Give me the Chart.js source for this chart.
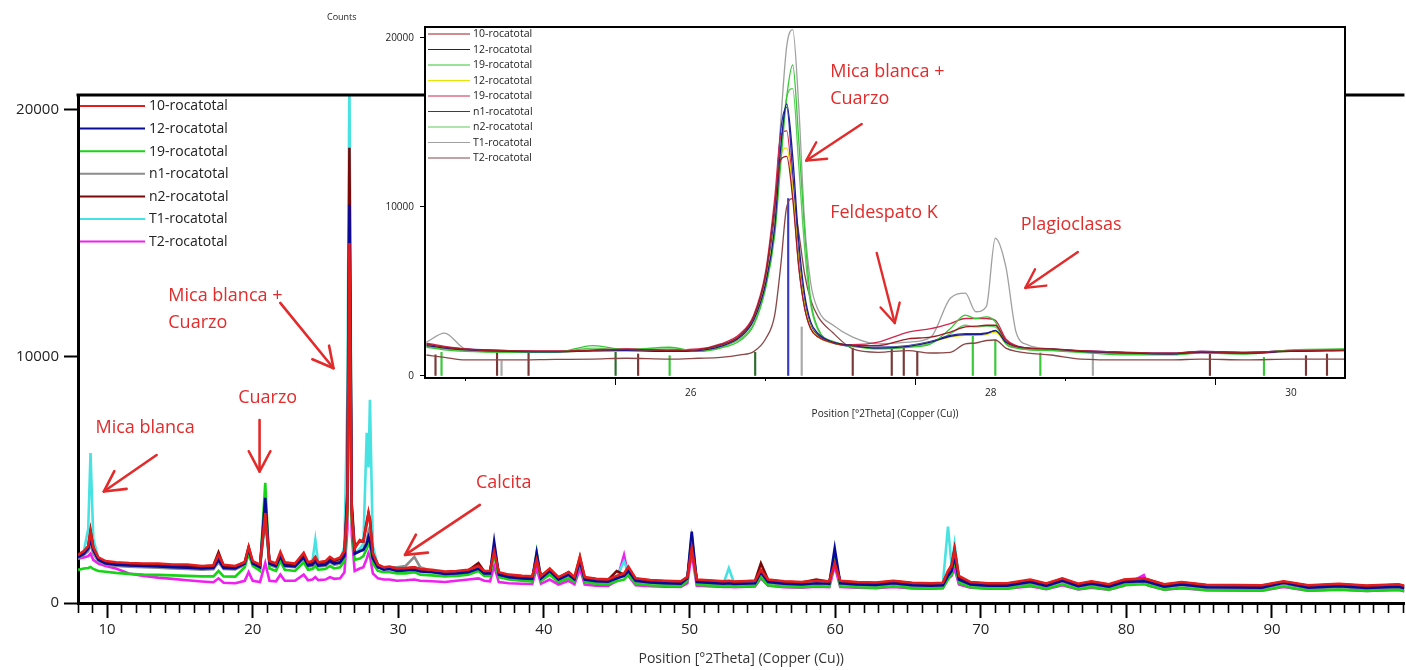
<!DOCTYPE html>
<html><head><meta charset="utf-8">
<script src="https://cdn.jsdelivr.net/npm/chart.js@4.4.0/dist/chart.umd.min.js"></script>
<style>
html,body{margin:0;padding:0;background:#fff;}
#wrap{position:relative;width:1406px;height:670px;overflow:hidden;background:#fff;}
#wrap canvas{position:absolute;left:0;top:0;}
</style></head><body>
<div id="wrap"><canvas id="main" width="1406" height="670"></canvas><canvas id="inset" width="1406" height="670"></canvas></div>
<script>
// ---------------- DATA: main pattern ----------------
const mainLabels = ['10-rocatotal','12-rocatotal','19-rocatotal','n1-rocatotal','n2-rocatotal','T1-rocatotal','T2-rocatotal'];
const mainXTickLabels = [10,20,30,40,50,60,70,80,90];
const mainYTickLabels = [0,10000,20000];

const main2Theta = [8.0,8.4,8.7,8.86,9.05,9.4,9.9,10.6,11.5,12.5,
13.5,14.5,15.5,16.5,17.3,17.65,18.0,18.8,19.45,19.72,
20.0,20.5,20.86,21.15,21.6,21.9,22.2,22.9,23.5,23.8,
24.1,24.3,24.5,25.0,25.3,25.6,26.0,26.3,26.5,26.64,
26.8,27.0,27.35,27.6,27.83,27.95,28.05,28.25,28.6,29.0,
29.4,29.9,30.5,31.1,31.5,32.3,33.2,34.0,34.8,35.5,
35.9,36.3,36.58,36.9,37.6,38.5,39.2,39.5,39.8,40.4,
41.0,41.7,42.1,42.47,42.8,43.6,44.4,45.0,45.5,45.8,
46.3,47.3,48.3,49.4,49.85,50.15,50.5,52.35,52.7,53.05,
54.5,54.9,55.4,56.5,57.7,58.7,59.6,59.97,60.35,61.5,
62.8,64.0,65.3,66.6,67.4,67.75,68.0,68.2,68.5,69.3,
70.5,71.8,73.4,74.5,75.6,76.7,77.6,78.8,79.85,81.2,
81.5,82.6,83.8,85.5,87.5,89.3,90.8,92.5,94.6,96.5,
98.7,99.1];

const counts10 = [1950,2100,2300,2880,2250,1850,1700,1650,1620,1600,
1600,1560,1560,1500,1520,1950,1550,1500,1650,2270,
1700,1550,3650,1700,1600,2070,1650,1600,2030,1650,
1700,1870,1650,1700,1870,1750,1850,2100,3800,14600,
3600,2200,2550,2500,3200,3650,3300,2000,1550,1450,
1480,1400,1420,1450,1380,1350,1280,1300,1350,1500,
1300,1300,2080,1250,1150,1100,1080,1750,1100,1400,
1050,1250,1050,1880,1050,980,960,1100,1200,1470,
1000,930,900,880,1050,2220,950,880,900,870,
900,1340,950,880,850,900,880,1610,900,850,
830,900,820,800,820,1300,1500,2150,1100,850,
800,800,950,790,1000,780,880,760,950,1000,
950,760,850,740,730,720,880,720,780,710,
760,700];

const counts12 = [1850,2000,2200,2600,2150,1750,1600,1550,1520,1500,
1480,1450,1430,1400,1420,1750,1420,1400,1600,2200,
1600,1450,4260,1600,1500,1900,1520,1480,1850,1520,
1550,1700,1520,1550,1700,1600,1650,1900,4200,16150,
3800,2000,2100,2150,2400,2680,2500,1800,1450,1350,
1380,1300,1320,1350,1280,1250,1180,1200,1250,1400,
1200,1200,2490,1150,1050,1000,980,2040,1000,1300,
960,1150,960,1700,950,880,860,1000,1100,1300,
900,830,800,780,1000,2890,850,780,800,770,
800,1250,850,780,750,800,780,2220,800,750,
730,800,720,700,720,1100,1300,1900,950,750,
700,700,850,690,900,680,780,660,850,880,
850,660,750,640,630,620,820,620,680,610,
660,600];

const counts19 = [1340,1400,1420,1460,1380,1300,1270,1220,1180,1150,
1140,1120,1100,1080,1080,1300,1080,1070,1450,2000,
1500,1300,4870,1400,1300,1700,1350,1300,1650,1350,
1380,1500,1350,1380,1500,1400,1450,1700,3600,13800,
3300,1750,1800,1900,2200,2430,2300,1600,1300,1250,
1250,1200,1200,1250,1150,1120,1080,1100,1150,1300,
1100,1100,2000,1050,950,900,880,2050,900,1150,
850,1000,860,1800,850,780,760,880,950,1150,
780,720,700,680,900,2750,740,680,700,660,
700,1050,720,660,640,690,660,1900,680,640,
620,680,610,590,610,950,1150,1750,820,640,
590,590,720,570,760,560,650,540,720,760,
720,540,620,520,510,500,680,500,550,490,
540,480];

const countsN1 = [1800,1950,2100,2400,2000,1700,1560,1500,1470,1450,
1430,1400,1380,1350,1370,1650,1380,1360,1550,2100,
1550,1400,3900,1550,1450,1850,1480,1450,1800,1480,
1500,1650,1480,1500,1650,1550,1600,1850,4000,12500,
3600,2000,2100,2200,2500,2900,2700,1800,1450,1400,
1450,1450,1500,1870,1450,1300,1200,1200,1220,1350,
1150,1150,2200,1100,1000,950,940,1800,950,1250,
920,1100,920,1650,900,850,830,1000,1100,1250,
870,800,780,760,950,2500,820,760,780,740,
780,1200,820,740,720,770,750,1900,770,720,
700,770,690,670,690,1050,1250,1800,900,720,
670,670,800,660,860,650,740,630,800,850,
820,630,720,610,600,590,780,590,650,580,
630,570];

const countsN2 = [1900,2050,2300,2950,2250,1800,1650,1600,1580,1560,
1550,1520,1500,1480,1520,2050,1500,1480,1650,2270,
1650,1500,3500,1650,1550,2000,1600,1560,2000,1600,
1650,1800,1600,1650,1800,1700,1800,2100,4500,18460,
4000,2300,2500,2500,3300,3650,3400,2000,1550,1420,
1450,1380,1400,1450,1350,1320,1250,1280,1320,1620,
1280,1280,2150,1220,1120,1080,1050,1700,1080,1350,
1020,1250,1030,1850,1020,960,940,1290,1150,1400,
980,910,880,860,1050,2300,930,860,880,850,
900,1610,930,860,830,950,860,1700,880,830,
810,880,800,780,800,1250,1550,2200,1050,830,
780,780,920,770,980,760,860,740,930,980,
940,740,830,720,710,700,860,700,760,690,
740,680];

const countsT1 = [1850,2100,3000,6080,2600,1800,1600,1550,1520,1500,
1480,1460,1440,1420,1440,1700,1440,1420,1550,2000,
1550,1450,3300,1550,1480,1800,1500,1480,1800,1550,
1700,2560,1600,1550,1700,1600,1700,2300,8350,21500,
4000,2000,2200,2400,6900,5500,8240,2300,1500,1400,
1400,1350,1380,1450,1350,1300,1220,1250,1280,1400,
1250,1250,2300,1200,1100,1050,1030,1900,1050,1300,
1000,1200,1000,1750,1000,930,910,1050,1680,1250,
950,880,850,830,1000,2600,900,830,1410,820,
850,1300,900,830,800,850,830,2000,850,800,
780,850,770,750,800,3100,1500,2390,1000,800,
750,750,900,740,950,730,830,710,900,930,
900,710,800,690,680,670,850,670,730,660,
710,650];

const countsT2 = [1800,1850,1900,2000,1750,1600,1500,1400,1200,1100,
1030,980,920,870,840,1000,820,800,900,1250,
900,850,1620,900,880,1150,900,900,1150,920,
950,1050,930,950,1050,980,1000,1250,3000,12000,
2800,1300,1400,1450,1800,2030,1900,1200,1000,950,
950,900,920,950,900,880,850,900,950,1000,
900,880,1500,850,800,780,770,1400,780,950,
750,900,760,1400,750,700,690,900,1950,1100,
720,680,660,650,800,2000,700,650,660,640,
670,1000,700,640,620,660,640,1500,650,620,
600,650,590,580,600,1000,1100,1400,750,620,
580,580,680,560,720,550,620,540,700,1130,
700,540,600,520,510,500,650,500,540,490,
530,480];

// ---------------- DATA: inset (24.2 - 30.4 deg) ----------------
const insetLabels = ['10-rocatotal','12-rocatotal','19-rocatotal','12-rocatotal','19-rocatotal','n1-rocatotal','n2-rocatotal','T1-rocatotal','T2-rocatotal'];
const insetXTickLabels = [26,28,30];
const insetYTickLabels = [0,10000,20000];

const inset2Theta = [24.24,24.36,24.5,24.8,25.1,25.35,25.57,25.86,26.05,26.2,
26.33,26.42,26.5,26.56,26.6,26.64,26.68,26.72,26.76,26.8,
26.85,26.95,27.08,27.25,27.45,27.6,27.73,27.83,27.9,27.97,
28.03,28.1,28.17,28.25,28.4,28.6,28.9,29.2,29.4,29.7,
30.0,30.36];

const inCounts10 = [1900,1700,1580,1480,1450,1520,1580,1500,1550,1850,
2400,3500,6000,10000,12800,13000,10500,6500,4000,2800,
2300,1950,1800,1800,2200,2300,2600,2900,2950,3000,
3000,2100,1750,1650,1600,1480,1380,1330,1430,1380,
1480,1520];
const inCounts12 = [1800,1650,1550,1450,1420,1480,1500,1450,1500,1750,
2300,3300,5500,8800,13500,16100,13000,8000,4800,3200,
2500,2000,1800,1650,1750,2000,2350,2450,2450,2500,
2700,2000,1750,1650,1600,1450,1350,1300,1400,1350,
1450,1500];
const inCounts19 = [1700,1550,1450,1400,1400,1800,1550,1700,1450,1650,
2100,3000,5200,8300,12500,16500,18400,14000,8500,4500,
2800,2000,1750,1600,1700,1900,2800,3600,3400,3500,
3200,1900,1650,1550,1500,1400,1250,1250,1350,1300,
1550,1600];
const inCounts12b = [1800,1650,1550,1450,1420,1480,1500,1450,1500,1750,
2300,3300,5600,9000,13000,13500,11000,6800,4200,2900,
2300,1950,1780,1650,1750,2000,2300,2400,2400,2450,
2600,1950,1720,1620,1580,1450,1350,1300,1400,1350,
1450,1500];
const inCounts19b = [1950,1750,1600,1500,1480,1550,1600,1550,1600,1900,
2500,3600,6200,10500,14200,14500,11000,6500,4000,2800,
2300,1950,1850,2000,2600,2800,3100,3400,3400,3400,
3300,2200,1800,1650,1600,1500,1400,1350,1450,1400,
1500,1550];
const inCountsN1 = [1850,1700,1600,1500,1450,1500,1550,1480,1520,1800,
2350,3400,5800,9500,14500,15900,12000,7200,4400,3000,
2400,1950,1750,1700,1800,2050,2400,2500,2500,2550,
2650,1950,1700,1600,1550,1500,1400,1350,1450,1400,
1500,1550];
const inCountsN2 = [1750,1600,1500,1420,1420,1650,1520,1600,1480,1700,
2200,3100,5300,8600,13000,16500,17000,12500,7500,4200,
2700,2050,1800,1650,1720,1950,2500,3000,2900,2950,
2900,1950,1700,1600,1550,1420,1300,1280,1380,1330,
1500,1580];
const inCountsT1 = [2000,2540,1600,1450,1420,1500,1550,1480,1520,1800,
2400,3400,5600,9500,15000,19500,20500,16000,9000,5500,
3900,3000,2300,1900,2000,2300,4600,4900,3800,4100,
8150,6470,2540,1830,1600,1480,1380,1330,1450,1400,
1500,1550];
const inCountsT2 = [1240,1100,950,950,980,1000,1050,1000,1050,1100,
1250,1440,2200,3600,6500,10000,10500,8500,6000,4500,
3500,2540,1600,1400,1500,1360,1400,1900,1950,2100,
2130,1650,1450,1350,1240,1000,950,950,1000,950,
1000,1000];

// reference-pattern sticks in the inset
const stickPos = [24.30,24.34,24.71,24.74,24.92,25.50,25.65,25.86,26.43,26.65,26.74,27.08,27.34,27.42,27.51,27.88,28.03,28.33,28.68,29.46,29.82,30.10,30.24];
const stickHeight = [1250,1400,1400,900,1400,1400,1300,1200,1400,10500,2900,1650,1650,1650,1440,2430,2130,1360,1360,1360,1100,1200,1300];
const stickPhase = ['b','g','b','s','b','d','b','g','d','n','s','b','b','b','b','g','g','g','s','b','g','b','b'];

// ---------------- STYLES ----------------
const FONT = '"Open Sans", "Noto Sans", "DejaVu Sans", sans-serif';
const mainColors = ['#e41c1c','#0a0a98','#17d417','#8c8c8c','#7a0808','#48e2e2','#f020f0'];
const insetColors = ['#a01c24','#1c1c8c','#34c834','#e6e600','#d0284c','#3030b0','#5ccc5c','#a0a0a0','#8a4646'];
const phaseColors = {b:'#7a3838', g:'#38c838', d:'#2e6b2e', s:'#a8a8a8', n:'#3a3ac8'};
const noteRed = '#e32b2b';

const mainNotes = [
  {lines:['Mica blanca'], x:9.2, y:7100},
  {lines:['Cuarzo'], x:19.0, y:8320},
  {lines:['Mica blanca +','Cuarzo'], x:14.2, y:12450},
  {lines:['Calcita'], x:35.33, y:4870}
];
const mainArrows = [
  {from:[13.4,6000], to:[9.77,4520]},
  {from:[20.47,7420], to:[20.47,5330]},
  {from:[21.89,12170], to:[25.55,9520]},
  {from:[35.6,3980], to:[30.46,1950]}
];
const insetNotes = [
  {lines:['Mica blanca +','Cuarzo'], x:26.93, y:17990},
  {lines:['Feldespato K'], x:26.93, y:9645},
  {lines:['Plagioclasas'], x:28.2, y:8935}
];
const insetArrows = [
  {from:[27.14,14910], to:[26.77,12740]},
  {from:[27.24,7280], to:[27.36,3136]},
  {from:[28.58,7340], to:[28.23,5210]}
];

// ---------------- helpers ----------------
function pts(xs, ys){ return xs.map((x,i)=>({x:x, y:ys[i]})); }

function drawArrow(ctx, x1, y1, x2, y2, head, lw){
  ctx.save();
  ctx.strokeStyle = noteRed; ctx.lineWidth = lw; ctx.lineCap = 'round'; ctx.lineJoin='round';
  ctx.beginPath(); ctx.moveTo(x1,y1); ctx.lineTo(x2,y2); ctx.stroke();
  const ang = Math.atan2(y1-y2, x1-x2), a = 28*Math.PI/180;
  ctx.beginPath();
  ctx.moveTo(x2 + head*Math.cos(ang+a), y2 + head*Math.sin(ang+a));
  ctx.lineTo(x2, y2);
  ctx.lineTo(x2 + head*Math.cos(ang-a), y2 + head*Math.sin(ang-a));
  ctx.stroke();
  ctx.restore();
}

const decor = {
  id: 'decor',
  beforeDraw(chart, args, o){
    if (o.whiteArea){
      const a = chart.chartArea, ctx = chart.ctx;
      ctx.save(); ctx.fillStyle = '#fff';
      ctx.fillRect(a.left-1, a.top-1, a.right-a.left+2, a.bottom-a.top+2);
      ctx.restore();
    }
  },
  afterDraw(chart, args, o){
    const ctx = chart.ctx, a = chart.chartArea;
    const xs = chart.scales.x, ys = chart.scales.y;
    ctx.save();
    ctx.strokeStyle = '#000';
    if (o.frame === 'top'){
      ctx.lineWidth = 3;
      ctx.beginPath(); ctx.moveTo(a.left-1.5, a.top); ctx.lineTo(a.right, a.top); ctx.stroke();
    } else if (o.frame === 'box'){
      ctx.lineWidth = 2;
      ctx.strokeRect(a.left, a.top, a.right-a.left, a.bottom-a.top);
    }
    const L = o.legend;
    let k = 0;
    ctx.font = L.size + 'px ' + FONT;
    ctx.textBaseline = 'middle'; ctx.textAlign = 'left';
    chart.data.datasets.forEach(ds => {
      if (ds.type === 'bar') return;
      const y = a.top + L.y0 + k*L.step;
      ctx.strokeStyle = ds.borderColor; ctx.lineWidth = L.lw;
      ctx.beginPath(); ctx.moveTo(a.left + L.x0, y); ctx.lineTo(a.left + L.x0 + L.len, y); ctx.stroke();
      ctx.fillStyle = '#222';
      ctx.fillText(ds.label, a.left + L.x0 + L.len + L.gap, y + 0.5);
      k++;
    });
    ctx.fillStyle = noteRed;
    ctx.font = o.noteSize + 'px ' + FONT;
    o.notes.forEach(n => {
      const px = xs.getPixelForValue(n.x), py = ys.getPixelForValue(n.y);
      n.lines.forEach((t,i) => ctx.fillText(t, px, py + i*o.noteLH));
    });
    o.arrows.forEach(ar => {
      drawArrow(ctx, xs.getPixelForValue(ar.from[0]), ys.getPixelForValue(ar.from[1]),
                xs.getPixelForValue(ar.to[0]), ys.getPixelForValue(ar.to[1]), o.head, o.arrowLW);
    });
    if (o.yTitle){
      ctx.fillStyle = '#222'; ctx.font = '9px ' + FONT;
      ctx.fillText(o.yTitle, a.left - 98, a.top - 10);
    }
    ctx.restore();
  }
};

// ---------------- MAIN CHART ----------------
const mainSeries = [counts10, counts12, counts19, countsN1, countsN2, countsT1, countsT2];
const mainDatasets = mainLabels.map((label, i) => ({
  label: label,
  data: pts(main2Theta, mainSeries[i]),
  borderColor: mainColors[i], backgroundColor: mainColors[i],
  borderWidth: 2.6, pointRadius: 0, tension: 0, fill: false
}));

const isMainMajor = v => mainXTickLabels.includes(Math.round(v)) && Math.abs(v - Math.round(v)) < 1e-6;

new Chart(document.getElementById('main'), {
  type: 'line',
  data: { datasets: mainDatasets },
  plugins: [decor],
  options: {
    responsive: false, animation: false, devicePixelRatio: 1, events: [],
    layout: { padding: { top: 95, left: 0, right: 0, bottom: 0 } },
    plugins: {
      legend: { display: false }, tooltip: { enabled: false },
      decor: {
        frame: 'top',
        legend: { x0: 2, y0: 11, step: 22.6, len: 65, gap: 4, size: 14, lw: 2 },
        notes: mainNotes, arrows: mainArrows, noteSize: 18, noteLH: 27, head: 23, arrowLW: 2.6
      }
    },
    scales: {
      x: {
        type: 'linear', min: 8, max: 99.1, offset: false,
        afterFit: s => { s.height = 67; },
        border: { display: true, color: '#000', width: 3 },
        grid: {
          drawOnChartArea: false, drawTicks: true, tickLength: 15, tickColor: '#000',
          tickWidth: c => (c.tick && isMainMajor(c.tick.value)) ? 2 : 1.6,
          tickBorderDash: c => (c.tick && isMainMajor(c.tick.value)) ? [] : [8, 60]
        },
        ticks: {
          stepSize: 1, autoSkip: false, maxRotation: 0, minRotation: 0, includeBounds: false,
          padding: 3, color: '#222', font: { family: FONT, size: 15 },
          callback: v => isMainMajor(v) ? String(Math.round(v)) : ''
        },
        title: { display: true, text: 'Position [°2Theta] (Copper (Cu))', color: '#333',
                 font: { family: FONT, size: 14 }, padding: { top: 2, bottom: 3 } }
      },
      y: {
        type: 'linear', min: 0, max: 20600,
        afterFit: s => { s.width = 78; },
        afterBuildTicks: s => { s.ticks = mainYTickLabels.map(v => ({ value: v })); },
        border: { display: true, color: '#000', width: 3 },
        grid: { drawOnChartArea: false, drawTicks: true, tickLength: 14, tickColor: '#000', tickWidth: 2 },
        ticks: {
          padding: 5, color: '#222', font: { family: FONT, size: 15 },
          callback: v => String(v)
        }
      }
    }
  }
});

// ---------------- INSET CHART ----------------
const insetSeries = [inCounts10, inCounts12, inCounts19, inCounts12b, inCounts19b, inCountsN1, inCountsN2, inCountsT1, inCountsT2];
const insetDatasets = insetLabels.map((label, i) => ({
  label: label,
  data: pts(inset2Theta, insetSeries[i]),
  borderColor: insetColors[i], backgroundColor: insetColors[i],
  borderWidth: 1.3, pointRadius: 0, cubicInterpolationMode: 'monotone', fill: false, order: 1
}));
insetDatasets.push({
  type: 'bar', label: 'reference',
  data: pts(stickPos, stickHeight),
  backgroundColor: stickPhase.map(p => phaseColors[p]),
  borderWidth: 0, barThickness: 1.5, grouped: false, order: 5
});

const isInsetMajor = v => insetXTickLabels.includes(Math.round(v)) && Math.abs(v - Math.round(v)) < 1e-6;

new Chart(document.getElementById('inset'), {
  type: 'line',
  data: { datasets: insetDatasets },
  plugins: [decor],
  options: {
    responsive: false, animation: false, devicePixelRatio: 1, events: [],
    layout: { padding: { top: 27, left: 380, right: 61, bottom: 244 } },
    plugins: {
      legend: { display: false }, tooltip: { enabled: false },
      decor: {
        frame: 'box', whiteArea: true, yTitle: 'Counts',
        legend: { x0: 3, y0: 7, step: 15.5, len: 42, gap: 3, size: 10.5, lw: 1.2 },
        notes: insetNotes, arrows: insetArrows, noteSize: 18, noteLH: 27, head: 21, arrowLW: 2.4
      }
    },
    scales: {
      x: {
        type: 'linear', min: 24.23, max: 30.36, offset: false,
        afterFit: s => { s.height = 48; },
        border: { display: false },
        grid: {
          drawOnChartArea: false, drawTicks: true, tickLength: 7, tickColor: '#000',
          tickWidth: 1,
          tickBorderDash: c => (c.tick && isInsetMajor(c.tick.value)) ? [] : [3, 30]
        },
        ticks: {
          stepSize: 1, autoSkip: false, maxRotation: 0, minRotation: 0, includeBounds: false,
          padding: 2, color: '#222', font: { family: FONT, size: 10 },
          callback: v => isInsetMajor(v) ? String(Math.round(v)) : ''
        },
        title: { display: true, text: 'Position [°2Theta] (Copper (Cu))', color: '#222',
                 font: { family: FONT, size: 10 }, padding: { top: 4, bottom: 6 } }
      },
      y: {
        type: 'linear', min: -120, max: 20650,
        afterFit: s => { s.width = 45; },
        afterBuildTicks: s => { s.ticks = insetYTickLabels.map(v => ({ value: v })); },
        border: { display: false },
        grid: { drawOnChartArea: false, drawTicks: true, tickLength: 5, tickColor: '#000', tickWidth: 1 },
        ticks: {
          padding: 6, color: '#222', font: { family: FONT, size: 10 },
          callback: v => String(v)
        }
      }
    }
  }
});
</script>
</body></html>
